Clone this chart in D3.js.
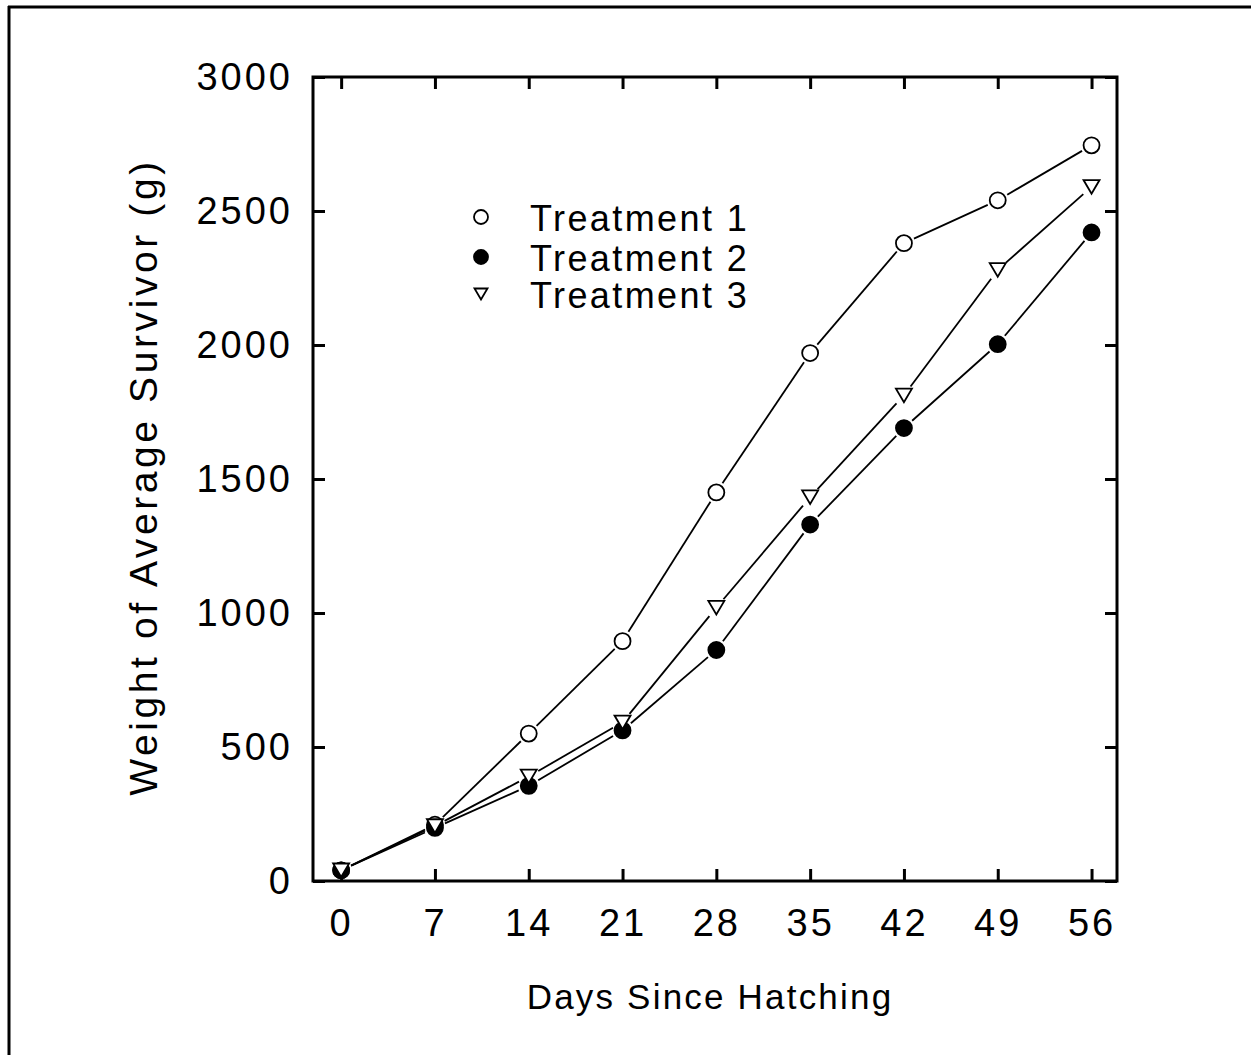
<!DOCTYPE html>
<meta charset="utf-8">
<style>
    body { margin: 0; background: #fff; }
    text { font-family: "Liberation Sans", Arial, sans-serif; fill: #000; }
</style>
<script src="https://d3js.org/d3.v7.min.js"></script>
<div id="chart"></div>
<script>
    // data
    const days = [0, 7, 14, 21, 28, 35, 42, 49, 56];
    const treatment1 = [40, 210, 550, 895, 1450, 1970, 2380, 2540, 2745];
    const treatment2 = [40, 198, 355, 562, 862, 1330, 1690, 2003, 2420];
    const treatment3 = [40, 205, 390, 592, 1020, 1432, 1812, 2280, 2590];
    const seriesNames = ["Treatment 1", "Treatment 2", "Treatment 3"];
    const yTicks = [0, 500, 1000, 1500, 2000, 2500, 3000];

    const W = 1251, H = 1055;
    const plot = {left: 313, right: 1117, top: 77, bottom: 881};

    const svg = d3.select("#chart").append("svg")
        .attr("width", W).attr("height", H);

    // outer frame (only top and left edges visible)
    svg.append("line").attr("x1", 8).attr("x2", W).attr("y1", 7).attr("y2", 7)
        .attr("stroke", "#000").attr("stroke-width", 3);
    svg.append("line").attr("x1", 9).attr("x2", 9).attr("y1", 6).attr("y2", H)
        .attr("stroke", "#000").attr("stroke-width", 3);

    const x = d3.scaleLinear().domain([-2.1, 57.9]).range([plot.left, plot.right]);
    const y = d3.scaleLinear().domain([0, 3000]).range([plot.bottom, plot.top]);

    // axes with inward ticks on all four sides
    const tickLen = 12;
    const styleAxis = g => {
        g.select(".domain").remove();
        g.selectAll(".tick line").attr("stroke", "#000").attr("stroke-width", 3);
    };
    svg.append("g").attr("transform", `translate(0,${plot.bottom})`)
        .call(d3.axisBottom(x).tickValues(days).tickSizeInner(-tickLen).tickSizeOuter(0).tickPadding(28))
        .call(styleAxis)
        .selectAll("text").attr("font-size", 38).attr("letter-spacing", 3)
        .attr("font-family", "Liberation Sans, Arial, sans-serif").attr("dy", "0.71em").attr("fill", "#000");
    svg.append("g").attr("transform", `translate(0,${plot.top})`)
        .call(d3.axisTop(x).tickValues(days).tickSizeInner(-tickLen).tickSizeOuter(0).tickFormat(""))
        .call(styleAxis);
    svg.append("g").attr("transform", `translate(${plot.left},0)`)
        .call(d3.axisLeft(y).tickValues(yTicks).tickFormat(d3.format("d"))
            .tickSizeInner(-tickLen).tickSizeOuter(0).tickPadding(20))
        .call(styleAxis)
        .selectAll("text").attr("font-size", 38).attr("letter-spacing", 3)
        .attr("font-family", "Liberation Sans, Arial, sans-serif").attr("fill", "#000");
    svg.append("g").attr("transform", `translate(${plot.right},0)`)
        .call(d3.axisRight(y).tickValues(yTicks).tickSizeInner(-tickLen).tickSizeOuter(0).tickFormat(""))
        .call(styleAxis);

    // plot box
    svg.append("rect")
        .attr("x", plot.left).attr("y", plot.top)
        .attr("width", plot.right - plot.left).attr("height", plot.bottom - plot.top)
        .attr("fill", "none").attr("stroke", "#000").attr("stroke-width", 3);

    // axis titles
    svg.append("text")
        .attr("x", (plot.left + plot.right) / 2 - 5).attr("y", 1009)
        .attr("text-anchor", "middle").attr("font-size", 35).attr("letter-spacing", 2.2)
        .text("Days Since Hatching");
    svg.append("text")
        .attr("transform", `translate(157,${(plot.top + plot.bottom) / 2 - 2}) rotate(-90)`)
        .attr("text-anchor", "middle").attr("font-size", 39).attr("letter-spacing", 3.6)
        .text("Weight of Average Survivor (g)");

    // marker drawing
    function marker(g, kind, cx, cy, r) {
        if (kind === 2) {
            // downward triangle
            const w = r * 2, h = r * 1.7;
            g.append("path")
                .attr("d", `M${cx - w / 2},${cy - h / 2}L${cx + w / 2},${cy - h / 2}L${cx},${cy + h / 2}Z`)
                .attr("fill", "#fff").attr("stroke", "#000").attr("stroke-width", 1.8);
        } else {
            g.append("circle").attr("cx", cx).attr("cy", cy).attr("r", r)
                .attr("fill", kind === 1 ? "#000" : "#fff")
                .attr("stroke", "#000").attr("stroke-width", 1.8);
        }
    }

    const series = [treatment1, treatment2, treatment3];
    const gap = 11;
    series.forEach((vals, k) => {
        const g = svg.append("g");
        const pts = days.map((d, i) => [x(d), y(vals[i])]);
        // segments stop short of the markers
        for (let i = 0; i < pts.length - 1; i++) {
            const [x0, y0] = pts[i], [x1, y1] = pts[i + 1];
            const len = Math.hypot(x1 - x0, y1 - y0);
            if (len <= 2 * gap) continue;
            const ux = (x1 - x0) / len, uy = (y1 - y0) / len;
            g.append("line")
                .attr("x1", x0 + ux * gap).attr("y1", y0 + uy * gap)
                .attr("x2", x1 - ux * gap).attr("y2", y1 - uy * gap)
                .attr("stroke", "#000").attr("stroke-width", 1.8);
        }
        pts.forEach(p => marker(g, k, p[0], p[1], 8));
    });

    // legend
    const legendY = [231, 271, 308];
    const legend = svg.append("g");
    seriesNames.forEach((name, k) => {
        marker(legend, k, 481, legendY[k] - 14, k === 2 ? 6.5 : 7);
        legend.append("text")
            .attr("x", 530).attr("y", legendY[k])
            .attr("font-size", 36).attr("letter-spacing", 2.4)
            .text(name);
    });
</script>
